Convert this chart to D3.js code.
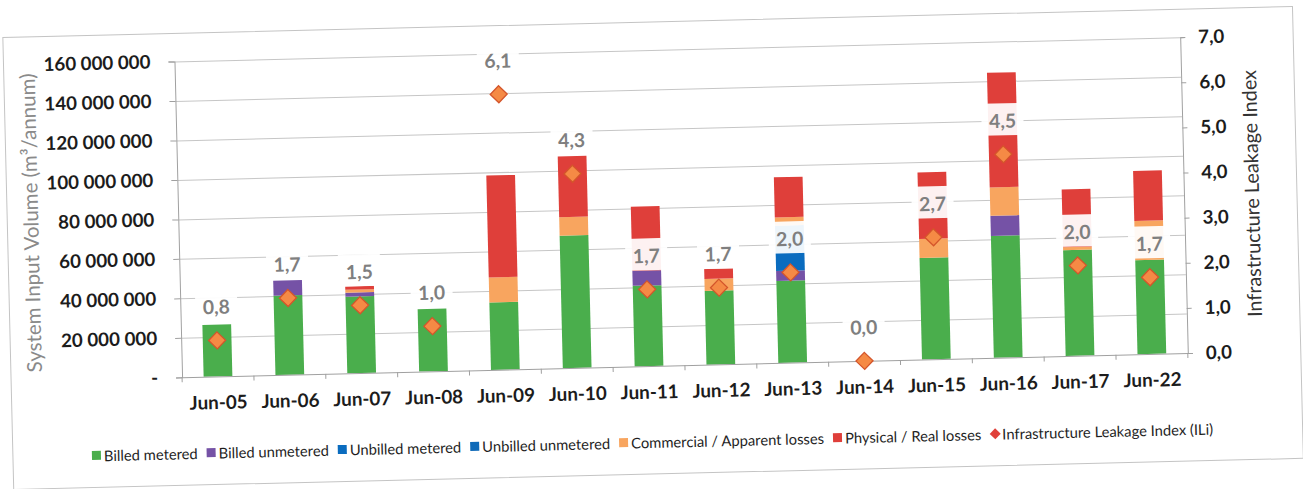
<!DOCTYPE html>
<html>
<head>
<meta charset="utf-8">
<script src="https://cdn.jsdelivr.net/npm/d3@7"></script>
<style>
  html, body { margin: 0; padding: 0; background: #fff; }
  svg { display: block; }
</style>
</head>
<body>
<svg id="chart" width="1303" height="489"></svg>
<script>
// Water balance per financial year (m³/annum) and the Infrastructure Leakage Index.
const categories = ["Jun-05", "Jun-06", "Jun-07", "Jun-08", "Jun-09", "Jun-10", "Jun-11",
                    "Jun-12", "Jun-13", "Jun-14", "Jun-15", "Jun-16", "Jun-17", "Jun-22"];

const billedMetered     = [26300000, 40200000, 38800000, 31600000, 34100000, 67100000, 40800000,
                           37300000, 41500000, 0, 51400000, 61700000, 53600000, 47700000];
const billedUnmetered   = [0, 7600000, 2000000, 0, 0, 0, 7600000,
                           0, 5100000, 0, 0, 10200000, 0, 0];
const unbilledMetered   = [0, 0, 0, 0, 0, 0, 0,
                           0, 22900000, 0, 0, 0, 0, 0];
const unbilledUnmetered = [0, 0, 0, 0, 0, 0, 0,
                           0, 0, 0, 0, 0, 0, 0];
const apparentLosses    = [0, 0, 1500000, 0, 12700000, 9300000, 0,
                           6100000, 4200000, 0, 9600000, 14400000, 1500000, 19800000];
const realLosses        = [0, 0, 1700000, 0, 51600000, 30800000, 32500000,
                           5100000, 20300000, 0, 33700000, 58000000, 29300000, 25400000];
const ili               = [0.8, 1.7, 1.5, 1.0, 6.1, 4.3, 1.7, 1.7, 2.0, 0.0, 2.7, 4.5, 2.0, 1.7];

const seriesNames = ["Billed metered", "Billed unmetered", "Unbilled metered",
                     "Unbilled unmetered", "Commercial / Apparent losses", "Physical / Real losses"];
const iliName = "Infrastructure Leakage Index (ILi)";

const volumeTicks = [0, 20000000, 40000000, 60000000, 80000000, 100000000, 120000000, 140000000, 160000000];
const iliTicks = [0, 1, 2, 3, 4, 5, 6, 7];

const leftTitle = "System Input Volume (m³/annum)";
const rightTitle = "Infrastructure Leakage Index";

// ---- styling ----
const colors = ["#4aae4c", "#7552a6", "#0a6cbf", "#0f6ab8", "#f8a55f", "#df3f3a"];
const iliFill = "#f58a45", iliStroke = "#d4552b", iliLegend = "#e0403a";
const font = "Lato, 'Open Sans', sans-serif";

const svg = d3.select("#chart");

// the whole chart sits slightly tilted on the page
const root = svg.append("g").attr("transform", "rotate(-1.38, 651, 244)");

const plot = { left: 179, right: 1185, top: 50, bottom: 366 };

// font size that gives a string a given rendered width
function fitSize(str, target, weight) {
  const t = svg.append("text").attr("font-family", font).attr("font-weight", weight)
    .attr("font-size", 100).text(str);
  const w = t.node().getComputedTextLength();
  t.remove();
  return 100 * target / w;
}

const tickFont = fitSize("160 000 000", 107, 700);
const catFont = fitSize("Jun-05", 58, 700);
const legendFont = fitSize("Commercial / Apparent losses", 193, 400);
const leftTitleFont = fitSize(leftTitle, 299, 400);
const rightTitleFont = fitSize(rightTitle, 247, 400);
const labelFont = fitSize("6,1", 27, 700);

// ---- border ----
root.append("rect").attr("x", 8).attr("y", 22).attr("width", 1290).attr("height", 452)
  .attr("fill", "none").attr("stroke", "#c4c4c4").attr("stroke-width", 1);

// ---- scales ----
const x = d3.scaleBand().domain(categories).range([plot.left, plot.right]).paddingInner(0.6).paddingOuter(0.3);
const yL = d3.scaleLinear().domain([0, 160000000]).range([plot.bottom, plot.top]);
const yR = d3.scaleLinear().domain([0, 7]).range([plot.bottom, plot.top]);

// ---- gridlines ----
root.append("g")
  .attr("transform", `translate(${plot.left},0)`)
  .call(d3.axisLeft(yL).tickValues(volumeTicks.filter(v => v > 0)).tickSize(-(plot.right - plot.left)).tickFormat(""))
  .call(g => g.select(".domain").remove())
  .call(g => g.selectAll("line").attr("stroke", "#c6c6c6").attr("stroke-width", 1));

// ---- stacked bars ----
const rows = categories.map((c, i) => ({
  cat: c,
  [seriesNames[0]]: billedMetered[i],
  [seriesNames[1]]: billedUnmetered[i],
  [seriesNames[2]]: unbilledMetered[i],
  [seriesNames[3]]: unbilledUnmetered[i],
  [seriesNames[4]]: apparentLosses[i],
  [seriesNames[5]]: realLosses[i]
}));
const stacked = d3.stack().keys(seriesNames)(rows);

root.append("g").selectAll("g").data(stacked).join("g")
  .attr("fill", (d, i) => colors[i])
  .selectAll("rect").data(d => d).join("rect")
  .attr("x", d => x(d.data.cat))
  .attr("width", x.bandwidth())
  .attr("y", d => yL(d[1]))
  .attr("height", d => Math.max(0, yL(d[0]) - yL(d[1])));

// ---- axes ----
const fmtVol = v => v === 0 ? "-" : d3.format(",")(v).replace(/,/g, " ");
const fmtIli = v => d3.format(".1f")(v).replace(".", ",");

const axisColor = "#a0a0a0";

root.append("g")
  .attr("transform", `translate(${plot.left},0)`)
  .call(d3.axisLeft(yL).tickValues(volumeTicks).tickFormat(fmtVol).tickSize(6).tickPadding(18))
  .call(g => g.select(".domain").attr("stroke", axisColor))
  .call(g => g.selectAll("line").attr("stroke", axisColor))
  .call(g => g.selectAll("text").attr("font-family", font).attr("font-weight", 700)
    .attr("font-size", tickFont).attr("fill", "#1c1c1c"));

root.append("g")
  .attr("transform", `translate(${plot.right},0)`)
  .call(d3.axisRight(yR).tickValues(iliTicks).tickFormat(fmtIli).tickSize(5).tickPadding(13))
  .call(g => g.select(".domain").attr("stroke", axisColor))
  .call(g => g.selectAll("line").attr("stroke", axisColor))
  .call(g => g.selectAll("text").attr("font-family", font).attr("font-weight", 700)
    .attr("font-size", tickFont).attr("fill", "#1c1c1c"));

const xAxis = root.append("g")
  .attr("transform", `translate(0,${plot.bottom})`)
  .call(d3.axisBottom(x).tickSize(0))
  .call(g => g.select(".domain").attr("stroke", axisColor))
  .call(g => g.selectAll("text").attr("y", 26).attr("dy", "0.35em")
    .attr("font-family", font).attr("font-weight", 700)
    .attr("font-size", catFont).attr("fill", "#1c1c1c"));

// category boundary tick marks
const bounds = d3.range(categories.length + 1).map(i => plot.left + i * (plot.right - plot.left) / categories.length);
xAxis.append("g").selectAll("line").data(bounds).join("line")
  .attr("x1", d => d).attr("x2", d => d).attr("y1", 0).attr("y2", 5)
  .attr("stroke", axisColor);

// ---- axis titles ----
root.append("text")
  .attr("transform", `translate(31,208) rotate(-90)`)
  .attr("text-anchor", "middle").attr("dominant-baseline", "central")
  .attr("font-family", font).attr("font-size", leftTitleFont).attr("fill", "#8a8a8a")
  .text(leftTitle);

root.append("text")
  .attr("transform", `translate(1252,208) rotate(-90)`)
  .attr("text-anchor", "middle").attr("dominant-baseline", "central")
  .attr("font-family", font).attr("font-size", rightTitleFont).attr("fill", "#333")
  .text(rightTitle);

// ---- ILI labels with white boxes ----
const cx = c => x(c) + x.bandwidth() / 2;
const labels = root.append("g").selectAll("g").data(categories).join("g")
  .attr("transform", (c, i) => `translate(${cx(c)},${yR(ili[i]) - 34})`);
labels.append("rect").attr("x", -21).attr("y", -17).attr("width", 42).attr("height", 32)
  .attr("fill", "#fff").attr("fill-opacity", 0.93);
labels.append("text")
  .attr("text-anchor", "middle").attr("dominant-baseline", "central")
  .attr("font-family", font).attr("font-weight", 700).attr("font-size", labelFont)
  .attr("fill", "#7f7f7f")
  .text((c, i) => fmtIli(ili[i]));

// ---- ILI markers ----
const diamond = r => `M0,${-r}L${r},0L0,${r}L${-r},0Z`;
root.append("g").selectAll("path").data(categories).join("path")
  .attr("d", diamond(8.5))
  .attr("transform", (c, i) => `translate(${cx(c)},${yR(ili[i])})`)
  .attr("fill", iliFill).attr("stroke", iliStroke).attr("stroke-width", 1.3);

// ---- legend ----
const legend = root.append("g").attr("transform", "translate(87,442)");
let lx = 0;
const items = seriesNames.map((n, i) => ({ name: n, color: colors[i], type: "square" }))
  .concat([{ name: iliName, color: iliLegend, type: "diamond" }]);
items.forEach(it => {
  const g = legend.append("g").attr("transform", `translate(${lx},0)`);
  if (it.type === "square") {
    g.append("rect").attr("x", 0).attr("y", -4.5).attr("width", 9).attr("height", 9).attr("fill", it.color);
  } else {
    g.append("path").attr("d", diamond(5.5)).attr("transform", "translate(5,0)").attr("fill", it.color);
  }
  const t = g.append("text").attr("x", 12).attr("dominant-baseline", "central")
    .attr("font-family", font).attr("font-size", legendFont).attr("fill", "#1e1e1e")
    .text(it.name);
  lx += 12 + t.node().getComputedTextLength() + 9;
});
</script>
</body>
</html>
